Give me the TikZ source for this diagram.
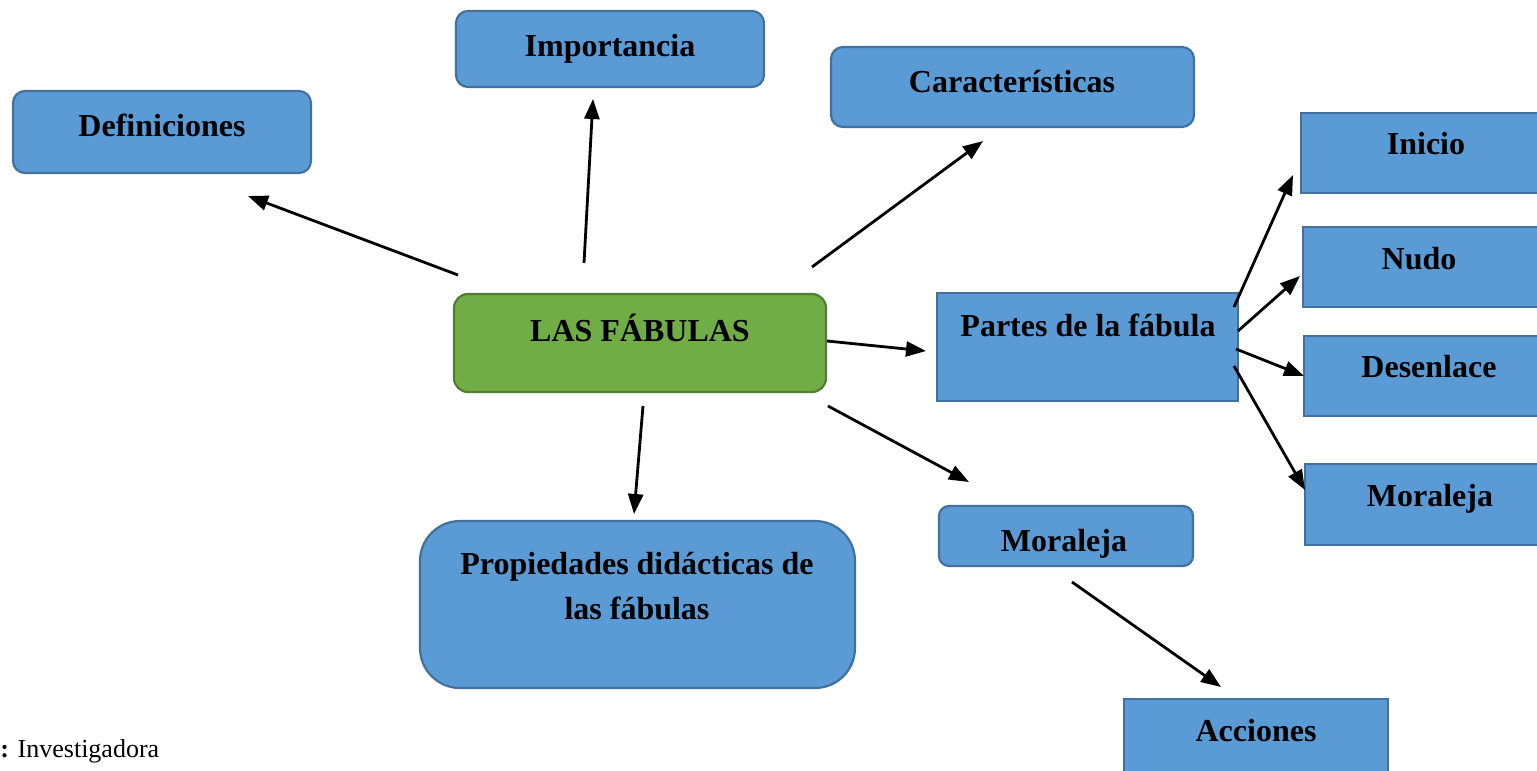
\documentclass[tikz,border=0pt]{standalone}
\usepackage{fontspec}
\setmainfont{Liberation Serif}
\usetikzlibrary{arrows.meta}
\definecolor{azul}{HTML}{5B9BD5}
\definecolor{azulb}{HTML}{41719C}
\definecolor{verde}{HTML}{70AD47}
\definecolor{verdeb}{HTML}{507E32}
\tikzset{every picture/.style = {x=0.5pt, y=-0.5pt}}
\tikzset{caja/.style = {draw=azulb, fill=azul, line width=1.1pt, inner sep=0}}
\tikzset{redonda/.style = {caja, rounded corners=6pt}}
\tikzset{txt/.style = {font=\fontsize{16}{22.5}\selectfont\bfseries, anchor=base, inner sep=0}}
\tikzset{flecha/.style = {line width=1.4pt, -{Triangle[length=10pt, width=7.5pt]}}}

\begin{document}
\begin{tikzpicture}
  \useasboundingbox (0, 0) rectangle (1537, 771);
  % cajas
  \node[redonda, minimum width=149pt, minimum height=41pt] (defi) at (162, 132) {};
  \node[redonda, minimum width=154pt, minimum height=38pt] (impo) at (610, 49) {};
  \node[redonda, minimum width=181.5pt, minimum height=40pt] (cara) at (1012.5, 87) {};
  \node[caja, minimum width=122pt, minimum height=40pt] (inicio) at (1423, 153) {};
  \node[caja, minimum width=121pt, minimum height=40pt] (nudo) at (1424, 267) {};
  \node[caja, minimum width=120.5pt, minimum height=40pt] (desen) at (1424.5, 376) {};
  \node[caja, minimum width=120pt, minimum height=40.5pt] (moraR) at (1425, 504.5) {};
  \node[caja, minimum width=150.5pt, minimum height=54pt] (partes) at (1087.5, 347) {};
  \node[redonda, fill=verde, draw=verdeb, rounded corners=7pt,
        minimum width=186pt, minimum height=49pt] (fab) at (640, 343) {};
  \node[redonda, rounded corners=5pt, minimum width=127pt, minimum height=30pt] (moraM) at (1066, 536) {};
  \node[redonda, rounded corners=20pt, minimum width=217.5pt, minimum height=83.5pt] (prop) at (637.5, 604.5) {};
  \node[caja, minimum width=132pt, minimum height=40.5pt] (acc) at (1256, 739.5) {};
  % textos
  \node[txt] (defiT) at (162, 136) {Definiciones};
  \node[txt] (impoT) at (610, 56) {Importancia};
  \node[txt] (caraT) at (1012, 92) {Características};
  \node[txt] (inicioT) at (1426, 154) {Inicio};
  \node[txt] (nudoT) at (1419, 269) {Nudo};
  \node[txt] (desenT) at (1429, 377) {Desenlace};
  \node[txt] (moraRT) at (1430, 506) {Moraleja};
  \node[txt] (partesT) at (1088, 336) {Partes de la fábula};
  \node[txt] (fabT) at (640, 341) {LAS FÁBULAS};
  \node[txt] (moraMT) at (1064, 551) {Moraleja};
  \node[txt, anchor=center, align=center] (propT) at (637, 586) {Propiedades didácticas de\\las fábulas};
  \node[txt] (accT) at (1256, 741) {Acciones};
  \node[anchor=base west, inner sep=0, font=\fontsize{13}{16}\selectfont] (fuente) at (0, 757) {\textbf{:} Investigadora};
  % extremos de las flechas
  \coordinate (f1) at (458, 275);  \coordinate (d1) at (248, 196);
  \coordinate (f2) at (584, 263);  \coordinate (d2) at (593, 99);
  \coordinate (f3) at (812, 267);  \coordinate (d3) at (983, 141);
  \coordinate (f4) at (827, 341);  \coordinate (d4) at (926, 351);
  \coordinate (f5) at (828, 406);  \coordinate (d5) at (969, 482);
  \coordinate (f6) at (643, 406);  \coordinate (d6) at (634, 514);
  \coordinate (f7) at (1072, 582); \coordinate (d7) at (1221, 687);
  \coordinate (p1) at (1234, 307); \coordinate (e1) at (1293, 175);
  \coordinate (p2) at (1238, 331); \coordinate (e2) at (1300, 276);
  \coordinate (p3) at (1236, 349); \coordinate (e3) at (1304, 376);
  \coordinate (p4) at (1234, 366); \coordinate (e4) at (1305, 490);
  % flechas
  \draw[flecha] (f1) -- (d1);
  \draw[flecha] (f2) -- (d2);
  \draw[flecha] (f3) -- (d3);
  \draw[flecha] (f4) -- (d4);
  \draw[flecha] (f5) -- (d5);
  \draw[flecha] (f6) -- (d6);
  \draw[flecha] (f7) -- (d7);
  \draw[flecha] (p1) -- (e1);
  \draw[flecha] (p2) -- (e2);
  \draw[flecha] (p3) -- (e3);
  \draw[flecha] (p4) -- (e4);
\end{tikzpicture}
\end{document}
